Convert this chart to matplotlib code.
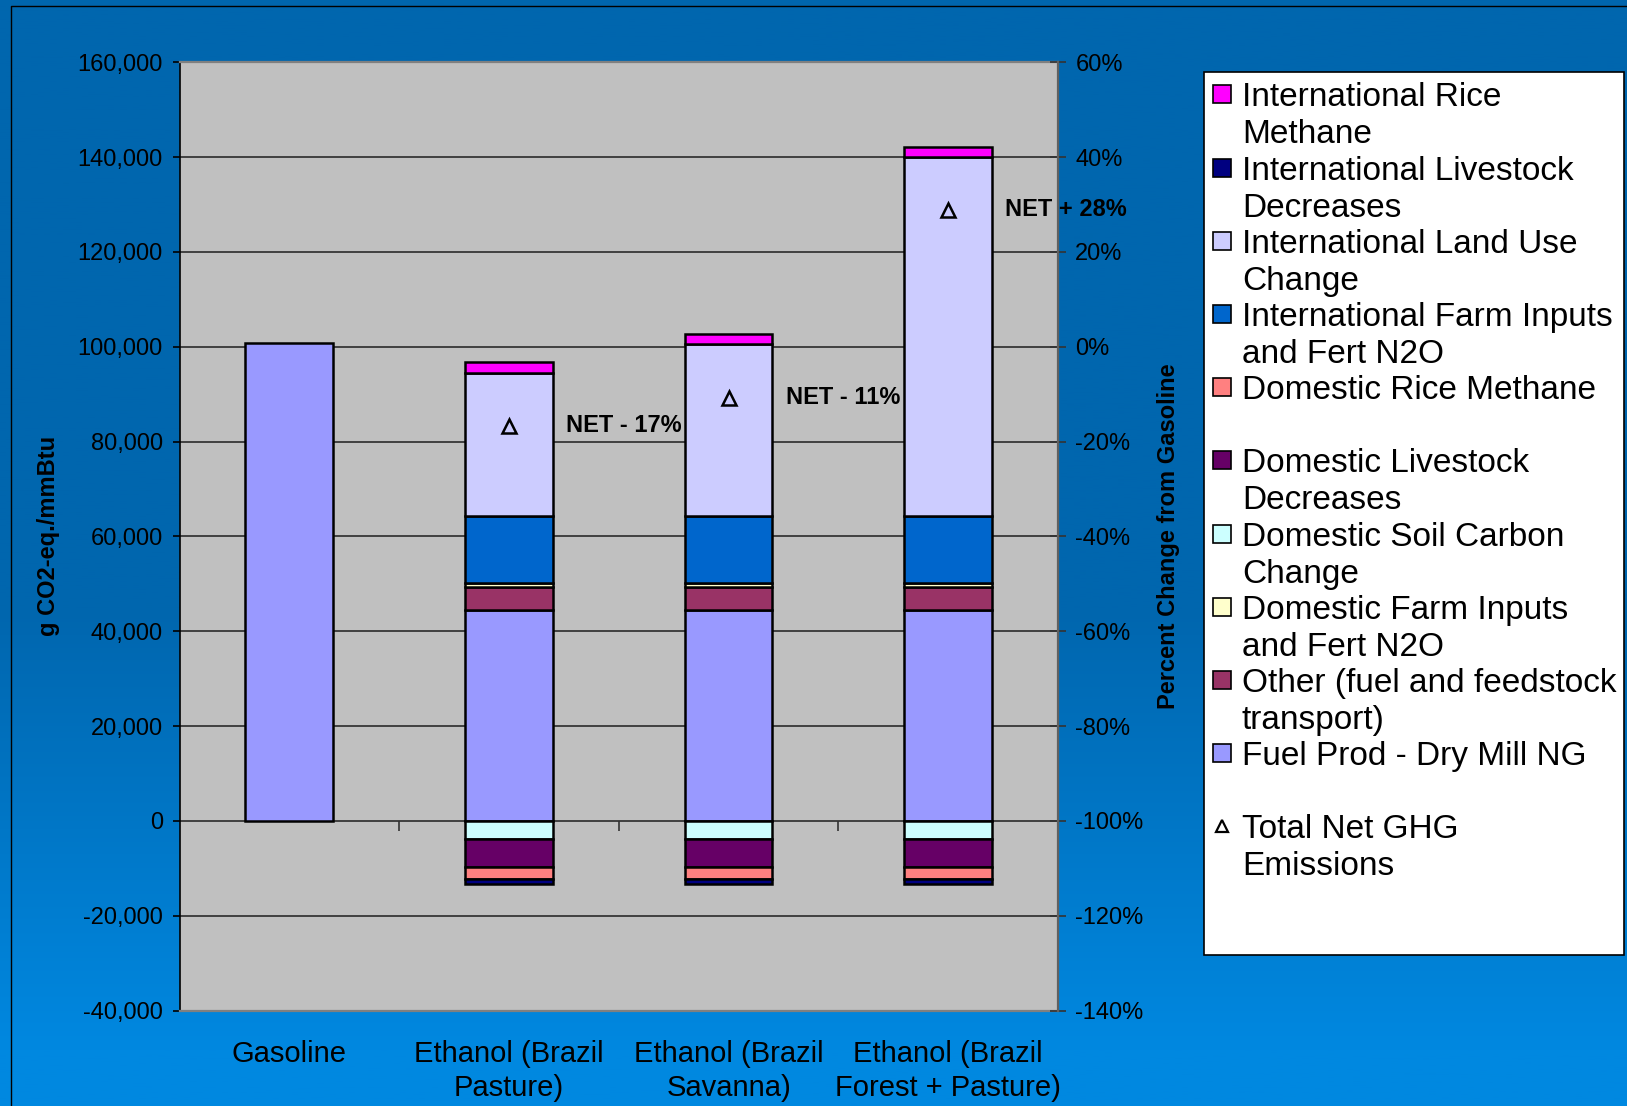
import numpy as np
import matplotlib.pyplot as plt
from matplotlib.patches import Rectangle
from matplotlib.colors import LinearSegmentedColormap

plt.rcParams['font.family'] = ['Liberation Sans', 'DejaVu Sans']

# Data (g CO2-eq./mmBtu)
categories = ['Gasoline', 'Ethanol (Brazil\nPasture)', 'Ethanol (Brazil\nSavanna)',
              'Ethanol (Brazil\nForest + Pasture)']
fuel_prod = [100800, 44500, 44500, 44500]
other = [0, 4900, 4900, 4900]
dom_farm = [0, 700, 700, 700]
dom_soil = [0, -3900, -3900, -3900]
dom_livestock = [0, -5800, -5800, -5800]
dom_rice = [0, -2600, -2600, -2600]
intl_farm = [0, 14200, 14200, 14200]
intl_luc = [0, 30200, 36300, 75800]
intl_livestock = [0, -1050, -1050, -1050]
intl_rice = [0, 2200, 2000, 2100]

# stacking order (bottom first), legend shows it reversed
series = [
    ('Fuel Prod - Dry Mill NG', fuel_prod, '#9999FF'),
    ('Other (fuel and feedstock\ntransport)', other, '#993366'),
    ('Domestic Farm Inputs\nand Fert N2O', dom_farm, '#FFFFCC'),
    ('Domestic Soil Carbon\nChange', dom_soil, '#CCFFFF'),
    ('Domestic Livestock\nDecreases', dom_livestock, '#660066'),
    ('Domestic Rice Methane', dom_rice, '#FF8080'),
    ('International Farm Inputs\nand Fert N2O', intl_farm, '#0066CC'),
    ('International Land Use\nChange', intl_luc, '#CCCCFF'),
    ('International Livestock\nDecreases', intl_livestock, '#000080'),
    ('International Rice\nMethane', intl_rice, '#FF00FF'),
]

W, H = 1627, 1106
fig = plt.figure(figsize=(W / 100, H / 100), dpi=100)

# background in pixel coordinates
bg = fig.add_axes([0, 0, 1, 1], zorder=-10)
bg.set_xlim(0, W)
bg.set_ylim(H, 0)
bg.axis('off')
grad = np.interp(np.linspace(0, 1, 500), [0, 0.55, 0.95, 1], [0, 0, 1, 1])
cmap = LinearSegmentedColormap.from_list('bg', ['#0066AE', '#0088E0'])
bg.imshow(grad[:, None], aspect='auto', cmap=cmap, extent=[0, W, H, 0], vmin=0, vmax=1)
bg.plot([11.5, 11.5, W], [H, 5.7, 5.7], color='black', lw=1)

# main chart
ax = fig.add_axes([179.5 / W, 1 - 1010.6 / H, (1058 - 179.5) / W, (1010.6 - 62.3) / H])
ax.set_facecolor('#C0C0C0')
x = np.arange(len(categories))
pos_bottom = np.zeros(len(x))
neg_bottom = np.zeros(len(x))
for name, vals, color in series:
    vals = np.array(vals, dtype=float)
    bottoms = np.where(vals >= 0, pos_bottom, neg_bottom)
    m = vals != 0
    ax.bar(x[m], vals[m], 0.4, bottom=bottoms[m], color=color,
           edgecolor='black', linewidth=1.8, zorder=3)
    pos_bottom += np.clip(vals, 0, None)
    neg_bottom += np.clip(vals, None, 0)

net = pos_bottom + neg_bottom
for i in x[1:]:
    ax.plot(x[i], net[i], marker='^', ms=10, mfc='none', mec='black', mew=1.8,
            ls='none', zorder=5)
    pct = round((net[i] / net[0] - 1) * 100)
    sign = '+' if pct >= 0 else '-'
    ax.text(x[i] + 0.26, net[i], f'NET {sign} {abs(pct)}%', fontsize=17,
            fontweight='bold', va='center', ha='left', clip_on=False, zorder=6)

# category boundary ticks on the zero line
ax.plot([0.5, 1.5, 2.5], [0, 0, 0], ls='none', marker=3, ms=7, mew=1.2,
        color='#333333', zorder=2)

ax.set_xlim(-0.5, 3.5)
ax.set_ylim(-40000, 160000)
yt = np.arange(-40000, 160001, 20000)
ax.set_yticks(yt)
ax.set_yticklabels([f'{v:,}' for v in yt], fontsize=17)
ax.yaxis.grid(True, color='#2b2b2b', lw=1.2)
ax.set_axisbelow(True)
ax.tick_params(axis='y', direction='out', length=5, width=1.2, pad=7)
ax.set_xticks(x)
ax.set_xticklabels(categories, fontsize=21)
for t in ax.get_xticklabels():
    t.set_linespacing(1.3)
ax.tick_params(axis='x', length=0, pad=21)
ax.spines['left'].set_color('black')
ax.spines['left'].set_linewidth(1.2)
for s in ['top', 'bottom']:
    ax.spines[s].set_color('#808080')
    ax.spines[s].set_linewidth(1.6)
ax.spines['right'].set_visible(False)

ax2 = ax.twinx()
ax2.set_ylim(-140, 60)
pt = np.arange(-140, 61, 20)
ax2.set_yticks(pt)
ax2.set_yticklabels([f'{v}%' for v in pt], fontsize=17)
ax2.tick_params(axis='y', direction='inout', length=11, width=1.2, color='#333333', pad=7)
for s in ['left', 'top', 'bottom']:
    ax2.spines[s].set_visible(False)
ax2.spines['right'].set_color('#606060')
ax2.spines['right'].set_linewidth(1.6)

bg.text(49, 536, 'g CO2-eq./mmBtu', rotation=90, fontsize=17, fontweight='bold',
        ha='center', va='center')
bg.text(1169, 536, 'Percent Change from Gasoline', rotation=90, fontsize=17,
        fontweight='bold', ha='center', va='center')

# legend
bg.add_patch(Rectangle((1204, 71.6), 1624 - 1204, 954.6 - 71.6, facecolor='white',
                       edgecolor='black', lw=1.2, zorder=2))
for i, (name, vals, color) in enumerate(series[::-1]):
    yc = 94.4 + i * 73.2
    bg.add_patch(Rectangle((1213, yc - 9), 18, 18, facecolor=color, edgecolor='black',
                           lw=1.2, zorder=3))
    for j, line in enumerate(name.split('\n')):
        bg.text(1242, yc + j * 37, line, fontsize=24, va='center_baseline', ha='left', zorder=3)
yc = 94.4 + len(series) * 73.2
bg.plot(1222, yc, marker='^', ms=9, mfc='none', mec='black', mew=1.6, zorder=3)
for j, line in enumerate(['Total Net GHG', 'Emissions']):
    bg.text(1242, yc + j * 37, line, fontsize=24, va='center_baseline', ha='left', zorder=3)

fig.savefig('out.png', dpi=100)
